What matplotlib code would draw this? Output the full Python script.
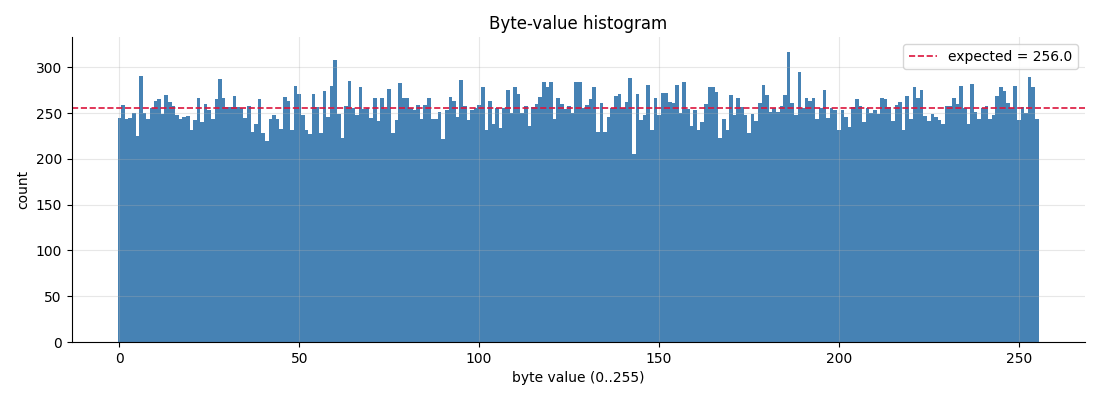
import matplotlib
matplotlib.use("Agg")
import matplotlib.pyplot as plt
import numpy as np

# byte values 0..255 and the count read for each bar
byte_values = list(range(256))
counts = [
    245, 259, 243, 245, 250, 225, 290, 250, 243, 256,  # 0-9
    263, 265, 249, 270, 262, 258, 248, 243, 246, 247,  # 10-19
    232, 242, 267, 240, 260, 253, 243, 265, 287, 266,  # 20-29
    257, 257, 269, 257, 255, 245, 258, 229, 238, 265,  # 30-39
    228, 219, 243, 248, 243, 233, 268, 263, 232, 280,  # 40-49
    271, 248, 232, 227, 271, 257, 228, 274, 246, 280,  # 50-59
    308, 249, 223, 258, 285, 256, 248, 279, 254, 256,  # 60-69
    245, 267, 241, 266, 254, 276, 228, 242, 283, 267,  # 70-79
    266, 255, 253, 259, 244, 259, 267, 243, 244, 251,  # 80-89
    222, 253, 268, 263, 246, 286, 258, 242, 253, 255,  # 90-99
    259, 279, 232, 263, 238, 256, 234, 255, 275, 250,  # 100-109
    279, 271, 250, 258, 236, 257, 260, 268, 284, 279,  # 110-119
    284, 243, 267, 260, 254, 258, 250, 284, 284, 256,  # 120-129
    259, 265, 279, 229, 261, 229, 246, 256, 269, 271,  # 130-139
    256, 262, 288, 205, 271, 242, 248, 281, 232, 266,  # 140-149
    248, 272, 272, 262, 261, 281, 250, 284, 254, 236,  # 150-159
    253, 231, 240, 260, 279, 279, 273, 223, 243, 232,  # 160-169
    270, 248, 266, 257, 248, 228, 249, 241, 261, 281,  # 170-179
    270, 251, 255, 251, 258, 270, 317, 261, 248, 295,  # 180-189
    256, 266, 263, 267, 244, 255, 275, 245, 255, 253,  # 190-199
    231, 253, 246, 235, 257, 265, 258, 240, 255, 250,  # 200-209
    253, 249, 267, 265, 257, 241, 259, 262, 231, 269,  # 210-219
    243, 278, 266, 275, 247, 241, 249, 246, 242, 238,  # 220-229
    258, 258, 266, 260, 280, 256, 238, 282, 251, 244,  # 230-239
    255, 258, 243, 248, 269, 278, 274, 261, 255, 280,  # 240-249
    242, 257, 250, 289, 278, 243,                      # 250-255
]
expected = 256.0

fig, ax = plt.subplots(figsize=(11, 4), dpi=100)
ax.bar(byte_values, counts, width=1.0, color="steelblue", edgecolor="none")
ax.axhline(expected, color="crimson", linestyle="--", linewidth=1.2,
           label=f"expected = {expected:.1f}")

ax.set_title("Byte-value histogram")
ax.set_xlabel("byte value (0..255)")
ax.set_ylabel("count")
ax.grid(alpha=0.3)
ax.spines["top"].set_visible(False)
ax.spines["right"].set_visible(False)
ax.legend(loc="upper right")

fig.subplots_adjust(left=0.065, right=0.986, top=0.907, bottom=0.145)
fig.savefig("out.png", dpi=100, facecolor="white")
